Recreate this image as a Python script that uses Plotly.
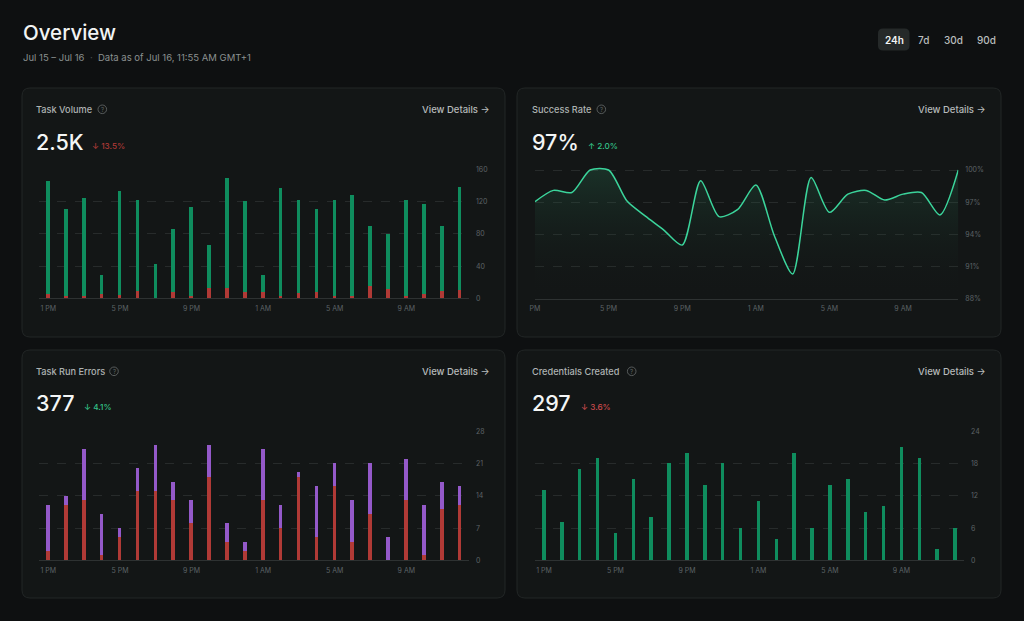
import plotly.graph_objects as go

W, H = 1024, 621

# ---------------- data ----------------
hours = ([f"{h} PM" for h in range(1, 12)] + ["12 AM"] +
         [f"{h} AM" for h in range(1, 12)] + ["12 PM"])
tick_hours = ["1 PM", "5 PM", "9 PM", "1 AM", "5 AM", "9 AM"]
tick_text_line = ["PM", "5 PM", "9 PM", "1 AM", "5 AM", "9 AM"]

volume_failed = [5, 2, 3, 5, 4, 9, 0, 8, 3, 12, 13, 8, 8, 2, 6, 8, 3, 2, 15, 11, 2, 5, 9, 10]
volume_success = [140, 108, 121, 23, 129, 112, 42, 77, 110, 54, 136, 112,
                  20, 134, 115, 102, 119, 126, 74, 69, 120, 112, 80, 128]

success_rate = [97.05, 98.1, 97.9, 100, 100, 97.1, 95.7, 94.4, 93.0, 99.0, 95.65, 96.3,
                98.6, 93.9, 90.3, 99.3, 96.05, 97.75, 98.1, 97.2, 97.75, 97.9, 95.8, 100]

errors_red = [2, 12, 13, 1, 5, 15, 15, 13, 8, 18, 4, 2, 13, 7, 18, 5, 16, 4, 10, 0, 13, 1, 11, 12]
errors_purple = [10, 2, 11, 9, 2, 5, 10, 4, 5, 7, 4, 2, 11, 5, 1, 11, 5, 9, 11, 5, 9, 11, 6, 4]

credentials = [13, 7, 17, 19, 5, 15, 8, 18, 20, 14, 18, 6, 11, 4, 20, 6, 14, 15, 9, 10, 21, 19, 2, 6]

vol_ticks = [0, 40, 80, 120, 160]
rate_ticks = [88, 91, 94, 97, 100]
err_ticks = [0, 7, 14, 21, 28]
cred_ticks = [0, 6, 12, 18, 24]

# ---------------- style ----------------
BG = "#0e1011"
CARD = "#131616"
CARD_BORDER = "#222626"
GREEN = "#0f8d5e"
RED = "#b03a36"
PURPLE = "#9459c9"
LINE = "#3bd49b"
GRID = "#272b2b"
AXLINE = "#2e3232"
TICK = "#5d6366"
FONT = "Inter"


def px(x):
    return x / W


def py(y):
    return 1 - y / H


fig = go.Figure()

# Task Volume
fig.add_bar(x=hours, y=volume_failed, marker_color=RED, width=0.2, xaxis="x", yaxis="y",
            marker_line_width=0)
fig.add_bar(x=hours, y=volume_success, marker_color=GREEN, width=0.2, xaxis="x", yaxis="y",
            marker_line_width=0)
# Success Rate
fig.add_scatter(x=hours, y=success_rate, mode="lines", xaxis="x2", yaxis="y2",
                line=dict(color=LINE, width=1.5, shape="spline", smoothing=0.75),
                fill="tozeroy",
                fillgradient=dict(type="vertical", start=88, stop=100,
                                  colorscale=[[0, "rgba(19,22,22,0)"],
                                              [1, "rgba(45,125,90,0.26)"]]))
# Task Run Errors
fig.add_bar(x=hours, y=errors_red, marker_color=RED, width=0.2, xaxis="x3", yaxis="y3",
            marker_line_width=0)
fig.add_bar(x=hours, y=errors_purple, marker_color=PURPLE, width=0.2, xaxis="x3", yaxis="y3",
            marker_line_width=0)
# Credentials Created
fig.add_bar(x=hours, y=credentials, marker_color=GREEN, width=0.2, xaxis="x4", yaxis="y4",
            marker_line_width=0)


def xaxis(x0, x1, anchor, rng, ticktext):
    return dict(domain=[px(x0), px(x1)], anchor=anchor, type="category",
                categoryorder="array", categoryarray=hours, automargin=False,
                range=rng, tickmode="array", tickvals=tick_hours, ticktext=ticktext,
                showgrid=False, zeroline=False, showline=True, linecolor=AXLINE,
                linewidth=1, ticks="", ticklabelstandoff=3,
                tickfont=dict(size=7, color=TICK, family=FONT), fixedrange=True)


def yaxis(y_bottom, y_top, anchor, rng, tickvals, ticktext=None):
    d = dict(domain=[py(y_bottom), py(y_top)], anchor=anchor, side="right",
             range=rng, tickmode="array", tickvals=tickvals, automargin=False,
             showgrid=True, gridcolor=GRID, griddash="dash", gridwidth=1,
             zeroline=False, showline=False, ticks="", ticklabelstandoff=6,
             tickfont=dict(size=7, color=TICK, family=FONT), fixedrange=True)
    if ticktext is not None:
        d["ticktext"] = ticktext
    return d


rate_top_px = 170 - 0.3 * (128.7 / 12)

layout_axes = dict(
    xaxis=xaxis(39.4, 469.0, "y", [-0.5, 23.5], tick_hours),
    yaxis=yaxis(298.3, 169.3, "x", [0, 160], vol_ticks),
    xaxis2=xaxis(535.0, 958.3, "y2", [0, 23], tick_text_line),
    yaxis2=yaxis(298.7, rate_top_px, "x2", [88, 100.3], rate_ticks,
                 [f"{v}%" for v in rate_ticks]),
    xaxis3=xaxis(39.4, 469.0, "y3", [-0.5, 23.5], tick_hours),
    yaxis3=yaxis(560.3, 431.3, "x3", [0, 28], err_ticks),
    xaxis4=xaxis(535.0, 964.0, "y4", [-0.5, 23.5], tick_hours),
    yaxis4=yaxis(560.3, 431.3, "x4", [0, 24], cred_ticks),
)


def rrect(x0, y0, x1, y1, r):
    return (f"M {px(x0 + r)},{py(y0)} L {px(x1 - r)},{py(y0)} "
            f"Q {px(x1)},{py(y0)} {px(x1)},{py(y0 + r)} "
            f"L {px(x1)},{py(y1 - r)} Q {px(x1)},{py(y1)} {px(x1 - r)},{py(y1)} "
            f"L {px(x0 + r)},{py(y1)} Q {px(x0)},{py(y1)} {px(x0)},{py(y1 - r)} "
            f"L {px(x0)},{py(y0 + r)} Q {px(x0)},{py(y0)} {px(x0 + r)},{py(y0)} Z")


shapes = []
cards = [(22, 88, 505, 337), (517, 88, 1001, 337), (22, 350, 505, 598), (517, 350, 1001, 598)]
for (x0, y0, x1, y1) in cards:
    shapes.append(dict(type="path", path=rrect(x0, y0, x1, y1, 8), xref="paper", yref="paper",
                       fillcolor=CARD, line=dict(color=CARD_BORDER, width=1), layer="below"))
# 24h button
shapes.append(dict(type="path", path=rrect(878, 28.5, 909.5, 50.5, 5), xref="paper", yref="paper",
                   fillcolor="#252929", line=dict(width=0), layer="below"))

annotations = []


def ann(text, x, y, size, color, xanchor="left", weight=400):
    annotations.append(dict(text=text, x=px(x), y=py(y), xref="paper", yref="paper",
                            xanchor=xanchor, yanchor="middle", showarrow=False,
                            font=dict(size=size, color=color, family=FONT, weight=weight)))


def help_icon(x, y):
    r = 4.3
    shapes.append(dict(type="circle", xref="paper", yref="paper",
                       x0=px(x - r), x1=px(x + r), y0=py(y + r), y1=py(y - r),
                       line=dict(color="#5d6262", width=0.9), fillcolor="rgba(0,0,0,0)"))
    ann("?", x, y + 0.3, 6, "#5d6262", xanchor="center")


ann("Overview", 20.5, 32, 20.5, "#f2f4f4", weight=500)
ann("Jul 15 – Jul 16", 20.5, 57.5, 9.5, "#8b9090")
ann("·", 88, 57.5, 9.5, "#4a4f4f")
ann("Data as of Jul 16, 11:55 AM GMT+1", 95.5, 57.5, 9.5, "#8b9090")

ann("24h", 894, 39.5, 10, "#f2f4f4", xanchor="center", weight=600)
ann("7d", 923.3, 39.5, 10, "#b9bdbd", xanchor="center", weight=500)
ann("30d", 953.3, 39.5, 10, "#b9bdbd", xanchor="center", weight=500)
ann("90d", 986, 39.5, 10, "#b9bdbd", xanchor="center", weight=500)

panels = [
    # title, title_x, title_y, icon_x, value, value_y, delta, delta_x, delta_color, details_x
    ("Task Volume", 34.3, 109.3, 102.3, "2.5K", 141.5, "↓ 13.5%", 89.5, RED, 491.5),
    ("Success Rate", 530.0, 109.3, 601.3, "97%", 141.5, "↑ 2.0%", 586, "#34c38a", 987.5),
    ("Task Run Errors", 34.3, 371.3, 114, "377", 402.5, "↓ 4.1%", 82, "#34c38a", 491.5),
    ("Credentials Created", 530.0, 371.3, 631.7, "297", 402.5, "↓ 3.6%", 578.5, "#cc4a4d", 987.5),
]
for (title, tx, ty, ix, val, vy, delta, dx, dcol, detx) in panels:
    ann(title, tx, ty, 9.2, "#aeb3b3", weight=500)
    help_icon(ix, ty)
    ann(val, tx, vy, 21.5, "#f4f6f6", weight=500)
    ann(delta, dx, vy + 4, 8.2, dcol, weight=500)
    ann("View Details →", detx, ty, 9.5, "#b7bbbb", xanchor="right", weight=500)

fig.update_layout(
    template="none",
    width=W, height=H, margin=dict(l=0, r=0, t=0, b=0, pad=0, autoexpand=False),
    paper_bgcolor=BG, plot_bgcolor="rgba(0,0,0,0)",
    barmode="stack", bargap=0, showlegend=False,
    font=dict(family=FONT, color=TICK),
    shapes=shapes, annotations=annotations,
    hovermode=False,
    **layout_axes,
)

fig.write_html("out.html", config={"displayModeBar": False},
               post_script="document.body.style.margin='0';document.body.style.background='#0e1011';")
